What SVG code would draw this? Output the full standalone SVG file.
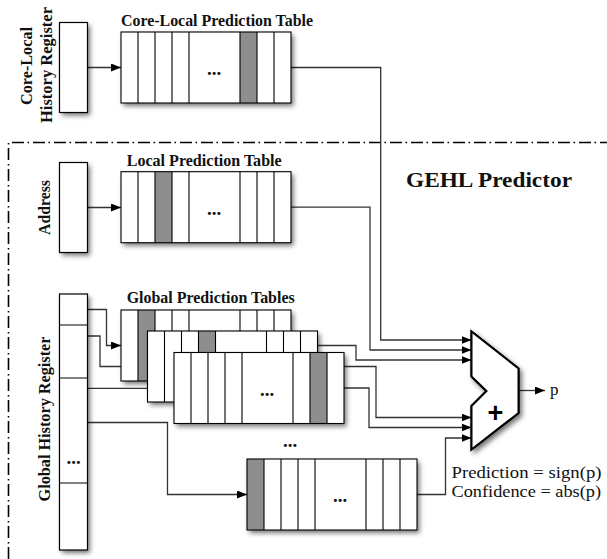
<svg xmlns="http://www.w3.org/2000/svg" xmlns:xlink="http://www.w3.org/1999/xlink" width="607" height="559" viewBox="0 0 607 559">
<style>
.bold{font-family:"Liberation Serif","DejaVu Serif",serif;font-weight:bold;fill:#111}
.reg{font-family:"Liberation Serif","DejaVu Serif",serif;fill:#111}
.box{fill:#fff;stroke:#000;stroke-width:1.2}
.sh{fill:#fff;filter:url(#shadow)}
.gray{fill:#8e8e8e}
.ln{fill:none;stroke:#000;stroke-width:1.1}
.conn{fill:none;stroke:#333;stroke-width:1.3}
.frame{fill:none;stroke:#000;stroke-width:1.6;stroke-dasharray:12 3.5 1.6 3.9}
.dots{font-family:"Liberation Serif","DejaVu Serif",serif;font-weight:bold;fill:#111;font-size:19px;text-anchor:middle}
</style>
<defs>
<filter id="shadow" x="-20%" y="-20%" width="150%" height="150%">
<feDropShadow dx="2.5" dy="3" stdDeviation="2.5" flood-color="#000" flood-opacity="0.55"/>
</filter>
<marker id="ah" markerWidth="10" markerHeight="8" refX="10" refY="4" orient="auto" markerUnits="userSpaceOnUse">
<path d="M0,0 L10,4 L0,8 Z" fill="#000"/>
</marker>
<g id="tbl-lines">
<path class="ln" d="M17,0V71M34,0V71M51,0V71M68,0V71M119,0V71M136,0V71M153,0V71"/>
<rect class="ln" width="170" height="71"/>
</g>
</defs>

<path class="frame" d="M8.5,559 V142.5 H607"/>

<g id="connectors">
<path class="conn" marker-end="url(#ah)" d="M88,67.5 H121"/>
<path class="conn" marker-end="url(#ah)" d="M291,67.5 H380.7 V340 H471.5"/>
<path class="conn" marker-end="url(#ah)" d="M88,207.5 H121"/>
<path class="conn" marker-end="url(#ah)" d="M291,207.2 H370 V350 H471.5"/>
<path class="conn" marker-end="url(#ah)" d="M291,345.5 H356 V360 H471.5"/>
<path class="conn" marker-end="url(#ah)" d="M317.5,366.5 H376 V417.5 H471.5"/>
<path class="conn" marker-end="url(#ah)" d="M344,388 H369 V427.5 H471.5"/>
<path class="conn" marker-end="url(#ah)" d="M417,494.5 H445.5 V438 H471.5"/>
<path class="conn" marker-end="url(#ah)" d="M88,309.5 H106.5 V345.5 H121"/>
<path class="conn" marker-end="url(#ah)" d="M88,336 H100 V366.5 H147.5"/>
<path class="conn" marker-end="url(#ah)" d="M88,388.3 H174"/>
<path class="conn" marker-end="url(#ah)" d="M88,422.5 H167.5 V494.5 H247"/>
<path class="conn" marker-end="url(#ah)" d="M518.5,390.5 H545"/>
</g>

<g id="core-local-history-register">
<rect class="sh" x="59.5" y="22.5" width="28" height="90"/>
<rect class="box" x="59.5" y="22.5" width="28" height="90"/>
<text class="bold" font-size="17.5" text-anchor="middle" textLength="78" lengthAdjust="spacingAndGlyphs" transform="translate(32,66) rotate(-90)">Core-Local</text>
<text class="bold" font-size="17.5" text-anchor="middle" textLength="116" lengthAdjust="spacingAndGlyphs" transform="translate(51.5,65) rotate(-90)">History Register</text>
</g>

<g id="core-local-prediction-table">
<text class="bold" x="121" y="26" font-size="16" textLength="192" lengthAdjust="spacingAndGlyphs">Core-Local Prediction Table</text>
<g transform="translate(121,32)">
<rect class="sh" width="170" height="71"/>
<rect class="gray" x="119" width="17" height="71"/>
<use xlink:href="#tbl-lines"/>
<text class="dots" x="93" y="43">...</text>
</g>
</g>

<g id="address">
<rect class="sh" x="59.5" y="162.5" width="28" height="90"/>
<rect class="box" x="59.5" y="162.5" width="28" height="90"/>
<text class="bold" font-size="17.5" text-anchor="middle" textLength="55" lengthAdjust="spacingAndGlyphs" transform="translate(50,207.5) rotate(-90)">Address</text>
</g>

<g id="local-prediction-table">
<text class="bold" x="126.7" y="166" font-size="16" textLength="155" lengthAdjust="spacingAndGlyphs">Local Prediction Table</text>
<g transform="translate(121,171.7)">
<rect class="sh" width="170" height="71"/>
<rect class="gray" x="34" width="17" height="71"/>
<use xlink:href="#tbl-lines"/>
<text class="dots" x="93" y="43">...</text>
</g>
</g>

<g id="gehl-label">
<text class="bold" x="406" y="187" font-size="22" textLength="166" lengthAdjust="spacingAndGlyphs">GEHL Predictor</text>
</g>

<g id="global-history-register">
<rect class="sh" x="59.5" y="294" width="28" height="256"/>
<rect class="box" x="59.5" y="294" width="28" height="256"/>
<path class="ln" d="M59.5,325H87.5M59.5,378H87.5M59.5,483H87.5"/>
<text class="dots" x="73.5" y="464" font-size="16">...</text>
<text class="bold" font-size="17.5" text-anchor="middle" textLength="165" lengthAdjust="spacingAndGlyphs" transform="translate(50,419) rotate(-90)">Global History Register</text>
</g>

<g id="global-prediction-tables-label">
<text class="bold" x="126.7" y="302.5" font-size="16" textLength="168" lengthAdjust="spacingAndGlyphs">Global Prediction Tables</text>
</g>

<g id="global-table-1" transform="translate(121,310)">
<rect class="sh" width="170" height="71"/>
<rect class="gray" x="17" width="17" height="71"/>
<use xlink:href="#tbl-lines"/>
</g>

<g id="global-table-2" transform="translate(147.5,331)">
<rect class="sh" width="170" height="71"/>
<rect class="gray" x="51" width="17" height="71"/>
<use xlink:href="#tbl-lines"/>
</g>

<g id="global-table-3" transform="translate(174,352.5)">
<rect class="sh" width="170" height="71"/>
<rect class="gray" x="136" width="17" height="71"/>
<use xlink:href="#tbl-lines"/>
<text class="dots" x="93" y="43">...</text>
</g>

<g id="tables-ellipsis">
<text class="dots" x="290" y="447" font-size="15">...</text>
</g>

<g id="global-table-n" transform="translate(247,459)">
<rect class="sh" width="170" height="71"/>
<rect class="gray" width="17" height="71"/>
<use xlink:href="#tbl-lines"/>
<text class="dots" x="93" y="43">...</text>
</g>

<g id="adder">
<polygon points="471.5,331.5 518.5,368.5 518.5,413 471.5,449.5 471.5,406 486.5,391 471.5,376.5" fill="#fff" stroke="#000" stroke-width="2" stroke-linejoin="miter" filter="url(#shadow)"/>
<polygon points="471.5,331.5 518.5,368.5 518.5,413 471.5,449.5 471.5,406 486.5,391 471.5,376.5" fill="#fff" stroke="#000" stroke-width="2" stroke-linejoin="miter"/>
<text x="495.5" y="422" font-family="Liberation Sans, Arial, sans-serif" font-weight="bold" font-size="27" text-anchor="middle" fill="#000">+</text>
</g>

<g id="output">
<text class="reg" x="550" y="395" font-size="17">p</text>
<text class="reg" x="451.5" y="478" font-size="17" textLength="150" lengthAdjust="spacingAndGlyphs">Prediction = sign(p)</text>
<text class="reg" x="451.5" y="496.5" font-size="17" textLength="149.5" lengthAdjust="spacingAndGlyphs">Confidence = abs(p)</text>
</g>
</svg>
